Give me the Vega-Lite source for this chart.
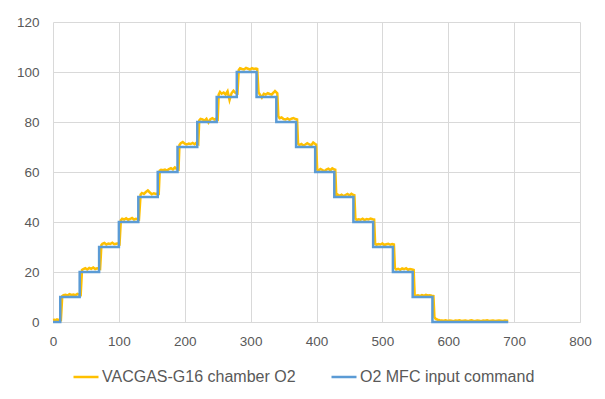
{
  "$schema": "https://vega.github.io/schema/vega-lite/v6.json",
  "width": 527,
  "height": 300,
  "autosize": "none",
  "padding": {"left": 53, "top": 22, "right": 25, "bottom": 77},
  "background": "white",
  "config": {
    "view": {"stroke": null},
    "font": "Liberation Sans",
    "axis": {"labelFont": "Liberation Sans", "labelFontSize": 13.5, "labelColor": "#595959", "gridColor": "#D9D9D9", "gridWidth": 1, "ticks": false, "title": null},
    "legend": {"labelFont": "Liberation Sans", "labelFontSize": 16, "labelColor": "#595959", "labelLimit": 400}
  },
  "datasets": {
    "cmd": [
      {"t": 0, "v": 0}, {"t": 11, "v": 10}, {"t": 40.5, "v": 20}, {"t": 70, "v": 30}, {"t": 100, "v": 40},
      {"t": 129.5, "v": 50}, {"t": 159, "v": 60}, {"t": 189, "v": 70}, {"t": 219, "v": 80}, {"t": 248.5, "v": 90},
      {"t": 279, "v": 100}, {"t": 309, "v": 90}, {"t": 339, "v": 80}, {"t": 369, "v": 70}, {"t": 398, "v": 60},
      {"t": 427, "v": 50}, {"t": 456, "v": 40}, {"t": 486, "v": 30}, {"t": 516, "v": 20}, {"t": 546, "v": 10},
      {"t": 576, "v": 0}, {"t": 691, "v": 0}
    ],
    "meas": [
      {"t": 0, "v": 0.8}, {"t": 2, "v": 0.9}, {"t": 4, "v": 0.7}, {"t": 6, "v": 1.0}, {"t": 8, "v": 0.8}, {"t": 10, "v": 0.9}, {"t": 12, "v": 0.8},
      {"t": 14, "v": 10.3}, {"t": 16, "v": 10.7}, {"t": 19, "v": 10.9}, {"t": 22, "v": 10.6}, {"t": 25, "v": 11.1}, {"t": 28, "v": 10.8}, {"t": 31, "v": 11.0}, {"t": 34, "v": 10.7}, {"t": 37, "v": 11.2}, {"t": 40, "v": 10.9}, {"t": 42, "v": 10.8},
      {"t": 44, "v": 20.8}, {"t": 46, "v": 21.2}, {"t": 49, "v": 21.5}, {"t": 52, "v": 21.0}, {"t": 55, "v": 21.6}, {"t": 58, "v": 21.3}, {"t": 61, "v": 21.8}, {"t": 64, "v": 21.2}, {"t": 67, "v": 21.5}, {"t": 70, "v": 21.3}, {"t": 71.5, "v": 21.2},
      {"t": 73.5, "v": 30.8}, {"t": 75, "v": 31.3}, {"t": 78, "v": 31.6}, {"t": 81, "v": 31.0}, {"t": 84, "v": 31.4}, {"t": 87, "v": 31.2}, {"t": 90, "v": 31.7}, {"t": 93, "v": 31.1}, {"t": 96, "v": 31.3}, {"t": 99, "v": 31.5}, {"t": 101, "v": 31.2},
      {"t": 103, "v": 40.7}, {"t": 105, "v": 41.3}, {"t": 108, "v": 41.0}, {"t": 111, "v": 41.5}, {"t": 114, "v": 40.9}, {"t": 117, "v": 41.2}, {"t": 120, "v": 41.6}, {"t": 123, "v": 41.0}, {"t": 126, "v": 41.3}, {"t": 129, "v": 41.1}, {"t": 130.5, "v": 41.0},
      {"t": 133, "v": 51.0}, {"t": 135, "v": 51.6}, {"t": 138, "v": 51.2}, {"t": 141, "v": 52.0}, {"t": 144, "v": 52.6}, {"t": 147, "v": 51.8}, {"t": 150, "v": 51.1}, {"t": 153, "v": 51.5}, {"t": 156, "v": 51.2}, {"t": 159, "v": 51.4}, {"t": 160.5, "v": 51.3},
      {"t": 162, "v": 60.5}, {"t": 164, "v": 60.9}, {"t": 167, "v": 60.7}, {"t": 170, "v": 61.0}, {"t": 173, "v": 60.6}, {"t": 176, "v": 61.2}, {"t": 179, "v": 61.5}, {"t": 182, "v": 61.0}, {"t": 185, "v": 61.8}, {"t": 188, "v": 61.2}, {"t": 190.5, "v": 61.0},
      {"t": 192, "v": 70.8}, {"t": 194, "v": 71.5}, {"t": 197, "v": 72.0}, {"t": 200, "v": 71.3}, {"t": 203, "v": 71.0}, {"t": 206, "v": 71.4}, {"t": 209, "v": 71.2}, {"t": 212, "v": 71.6}, {"t": 215, "v": 71.1}, {"t": 218, "v": 71.8}, {"t": 220.5, "v": 71.3},
      {"t": 222, "v": 80.6}, {"t": 224, "v": 81.2}, {"t": 227, "v": 81.0}, {"t": 230, "v": 80.5}, {"t": 233, "v": 81.3}, {"t": 236, "v": 79.8}, {"t": 239, "v": 81.1}, {"t": 242, "v": 81.5}, {"t": 245, "v": 81.0}, {"t": 248, "v": 81.3}, {"t": 250, "v": 81.0},
      {"t": 251.5, "v": 91.0}, {"t": 253.5, "v": 92.0}, {"t": 256, "v": 91.3}, {"t": 259, "v": 91.8}, {"t": 262, "v": 91.0}, {"t": 265, "v": 92.3}, {"t": 268, "v": 88.8}, {"t": 271, "v": 91.5}, {"t": 274, "v": 92.5}, {"t": 277, "v": 91.6}, {"t": 280, "v": 91.4},
      {"t": 282, "v": 100.8}, {"t": 284, "v": 101.5}, {"t": 287, "v": 101.2}, {"t": 290, "v": 101.0}, {"t": 293, "v": 101.6}, {"t": 296, "v": 101.3}, {"t": 299, "v": 101.0}, {"t": 302, "v": 101.5}, {"t": 305, "v": 101.2}, {"t": 308, "v": 101.4}, {"t": 310, "v": 101.2},
      {"t": 312, "v": 91.8}, {"t": 314, "v": 91.0}, {"t": 317, "v": 89.8}, {"t": 320, "v": 91.3}, {"t": 323, "v": 91.0}, {"t": 326, "v": 91.5}, {"t": 329, "v": 91.2}, {"t": 332, "v": 91.0}, {"t": 335, "v": 91.8}, {"t": 337, "v": 92.4}, {"t": 340.5, "v": 91.5},
      {"t": 342, "v": 82.3}, {"t": 344, "v": 81.5}, {"t": 347, "v": 81.8}, {"t": 350, "v": 81.2}, {"t": 353, "v": 81.0}, {"t": 356, "v": 81.4}, {"t": 359, "v": 80.9}, {"t": 362, "v": 81.3}, {"t": 365, "v": 81.6}, {"t": 368, "v": 81.2}, {"t": 370.5, "v": 81.0},
      {"t": 372, "v": 71.3}, {"t": 374, "v": 70.8}, {"t": 377, "v": 71.2}, {"t": 380, "v": 70.6}, {"t": 383, "v": 71.0}, {"t": 386, "v": 71.5}, {"t": 389, "v": 71.0}, {"t": 392, "v": 70.7}, {"t": 395, "v": 71.8}, {"t": 398, "v": 71.2}, {"t": 399.5, "v": 71.0},
      {"t": 401, "v": 61.0}, {"t": 403, "v": 60.6}, {"t": 406, "v": 61.2}, {"t": 409, "v": 60.8}, {"t": 412, "v": 60.3}, {"t": 415, "v": 61.0}, {"t": 418, "v": 61.3}, {"t": 421, "v": 60.7}, {"t": 424, "v": 61.5}, {"t": 427, "v": 61.0}, {"t": 428.5, "v": 60.9},
      {"t": 430, "v": 50.6}, {"t": 432, "v": 51.0}, {"t": 435, "v": 50.5}, {"t": 438, "v": 50.9}, {"t": 441, "v": 50.4}, {"t": 444, "v": 50.8}, {"t": 447, "v": 51.2}, {"t": 450, "v": 50.6}, {"t": 453, "v": 51.3}, {"t": 456, "v": 50.8}, {"t": 457.5, "v": 50.7},
      {"t": 459, "v": 41.3}, {"t": 461, "v": 40.8}, {"t": 464, "v": 41.1}, {"t": 467, "v": 40.9}, {"t": 470, "v": 41.3}, {"t": 473, "v": 40.8}, {"t": 476, "v": 41.2}, {"t": 479, "v": 41.0}, {"t": 482, "v": 41.4}, {"t": 485, "v": 41.1}, {"t": 487.5, "v": 41.0},
      {"t": 489, "v": 31.3}, {"t": 491, "v": 30.9}, {"t": 494, "v": 31.2}, {"t": 497, "v": 31.0}, {"t": 500, "v": 31.4}, {"t": 503, "v": 30.8}, {"t": 506, "v": 31.1}, {"t": 509, "v": 31.3}, {"t": 512, "v": 30.9}, {"t": 515, "v": 31.2}, {"t": 517.5, "v": 31.0},
      {"t": 519, "v": 21.6}, {"t": 521, "v": 21.0}, {"t": 524, "v": 21.3}, {"t": 527, "v": 20.9}, {"t": 530, "v": 21.4}, {"t": 533, "v": 21.1}, {"t": 536, "v": 21.5}, {"t": 539, "v": 20.9}, {"t": 542, "v": 21.2}, {"t": 545, "v": 21.0}, {"t": 547.5, "v": 20.8},
      {"t": 549, "v": 10.8}, {"t": 551, "v": 10.5}, {"t": 554, "v": 10.7}, {"t": 557, "v": 10.4}, {"t": 560, "v": 10.8}, {"t": 563, "v": 10.5}, {"t": 566, "v": 10.9}, {"t": 569, "v": 10.6}, {"t": 572, "v": 10.7}, {"t": 575, "v": 10.5}, {"t": 577.5, "v": 10.4},
      {"t": 579, "v": 2.0}, {"t": 581, "v": 1.2}, {"t": 584, "v": 0.9}, {"t": 587, "v": 0.7}, {"t": 590, "v": 0.6}, {"t": 593, "v": 0.5}, {"t": 596, "v": 0.7}, {"t": 599, "v": 0.4}, {"t": 602, "v": 0.6}, {"t": 605, "v": 0.5}, {"t": 608, "v": 0.3}, {"t": 611, "v": 0.6}, {"t": 614, "v": 0.5}, {"t": 617, "v": 0.7}, {"t": 620, "v": 0.4}, {"t": 623, "v": 0.5}, {"t": 626, "v": 0.6}, {"t": 629, "v": 0.4}, {"t": 632, "v": 0.5}, {"t": 635, "v": 0.7}, {"t": 638, "v": 0.5}, {"t": 641, "v": 0.4}, {"t": 644, "v": 0.6}, {"t": 647, "v": 0.5}, {"t": 650, "v": 0.3}, {"t": 653, "v": 0.6}, {"t": 656, "v": 0.5}, {"t": 659, "v": 0.7}, {"t": 662, "v": 0.4}, {"t": 665, "v": 0.5}, {"t": 668, "v": 0.6}, {"t": 671, "v": 0.4}, {"t": 674, "v": 0.5}, {"t": 677, "v": 0.6}, {"t": 680, "v": 0.5}, {"t": 683, "v": 0.4}, {"t": 686, "v": 0.6}, {"t": 689, "v": 0.5}, {"t": 691, "v": 0.5}
    ]
  },
  "encoding": {
    "x": {"field": "t", "type": "quantitative", "scale": {"domain": [0, 800], "nice": false, "zero": false},
          "axis": {"values": [0, 100, 200, 300, 400, 500, 600, 700, 800], "domain": true, "domainColor": "#D9D9D9", "domainWidth": 1, "labelPadding": 12, "grid": true, "labelFlush": false}},
    "y": {"field": "v", "type": "quantitative", "scale": {"domain": [0, 120], "nice": false},
          "axis": {"values": [0, 20, 40, 60, 80, 100, 120], "domain": false, "labelPadding": 14, "grid": true}},
    "color": {"field": "s", "type": "nominal",
              "scale": {"domain": ["VACGAS-G16 chamber O2", "O2 MFC input command"], "range": ["#FFC000", "#5B9BD5"]},
              "legend": {"title": null, "orient": "none", "direction": "horizontal", "columns": 2, "legendX": 19, "legendY": 341,
                         "symbolType": "stroke", "symbolSize": 625, "symbolStrokeWidth": 2.5, "labelOffset": 2, "columnPadding": 30, "padding": 0, "labelLimit": 400}}
  },
  "layer": [
    {
      "data": {"name": "meas"},
      "transform": [{"calculate": "'VACGAS-G16 chamber O2'", "as": "s"}],
      "mark": {"type": "line", "strokeWidth": 2.5, "interpolate": "linear"}
    },
    {
      "data": {"name": "cmd"},
      "transform": [{"calculate": "'O2 MFC input command'", "as": "s"}],
      "mark": {"type": "line", "strokeWidth": 2.5, "interpolate": "step-after"}
    }
  ]
}
